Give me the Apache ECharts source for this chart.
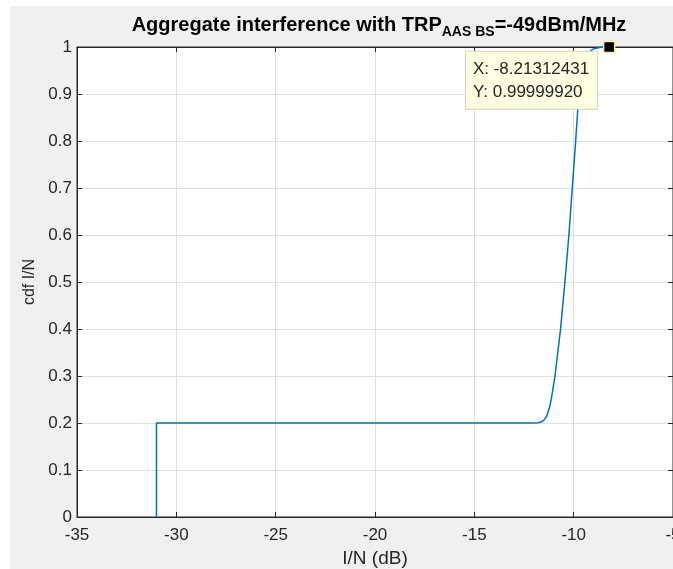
<!DOCTYPE html>
<html>
<head>
<meta charset="utf-8">
<script src="https://cdn.jsdelivr.net/npm/echarts@6/dist/echarts.min.js"></script>
<style>
html,body{margin:0;padding:0;background:#ffffff;}
#c{position:absolute;left:10px;top:6px;width:663px;height:563px;}
</style>
</head>
<body>
<div id="c"></div>
<script>
// ---- data ----
const xValues = [-31, -31, -12.05, -11.8, -11.65, -11.5, -11.35, -11.2, -11.07, -10.94, -10.66, -10.44, -10.24, -10.07, -9.90, -9.74, -9.6, -9.45, -9.28, -9.0, -8.63, -8.21312431];
const cdfValues = [0, 0.2, 0.2, 0.2005, 0.202, 0.206, 0.215, 0.235, 0.265, 0.3, 0.4, 0.5, 0.6, 0.7, 0.8, 0.9, 0.945, 0.972, 0.988, 0.996, 0.9993, 0.9999992];
const xTicks = [-35, -30, -25, -20, -15, -10, -5];
const yTicks = [0, 0.1, 0.2, 0.3, 0.4, 0.5, 0.6, 0.7, 0.8, 0.9, 1];
const dataTip = [-8.21312431, 0.9999992];

const FONT = 'Liberation Sans, Arial, Helvetica, sans-serif';
const seriesData = xValues.map((x, i) => [x, cdfValues[i]]);

const chart = echarts.init(document.getElementById('c'), null, {renderer: 'canvas'});
const axisCommon = {
  axisLine: {show: true, onZero: false, lineStyle: {color: '#262626', width: 1}},
  axisTick: {show: true, inside: true, length: 5, lineStyle: {color: '#262626'}}
};
chart.setOption({
  backgroundColor: '#f0f0f0',
  animation: false,
  title: {
    text: 'Aggregate interference with TRP{sub|AAS BS}=-49dBm/MHz',
    left: 364, top: 0, textAlign: 'center',
    textStyle: {
      fontFamily: FONT, fontSize: 20, fontWeight: 'bold', color: '#000',
      rich: {
        sub: {fontFamily: FONT, fontSize: 14, fontWeight: 'bold', color: '#000', padding: [14, 0, 0, 0]}
      }
    }
  },
  grid: {left: 67, top: 41, right: 0, bottom: 52, outerBoundsMode: 'none', containLabel: false,
    show: true, backgroundColor: '#ffffff', borderColor: '#262626', borderWidth: 1},
  xAxis: [{
    type: 'value', min: xTicks[0], max: xTicks[xTicks.length - 1], interval: 5,
    position: 'bottom',
    name: 'I/N (dB)', nameLocation: 'middle', nameGap: 32,
    nameTextStyle: {fontFamily: FONT, fontSize: 19, color: '#262626'},
    axisLabel: {fontFamily: FONT, fontSize: 17, color: '#262626', margin: 10},
    splitLine: {show: true, lineStyle: {color: '#dfdfdf', width: 1}},
    ...axisCommon
  }, {
    type: 'value', min: xTicks[0], max: xTicks[xTicks.length - 1], interval: 5,
    position: 'top', axisLabel: {show: false}, splitLine: {show: false},
    ...axisCommon
  }],
  yAxis: [{
    type: 'value', min: yTicks[0], max: yTicks[yTicks.length - 1], interval: 0.1,
    position: 'left',
    name: 'cdf I/N', nameLocation: 'middle', nameGap: 36, nameRotate: 90,
    nameTextStyle: {fontFamily: FONT, fontSize: 16, color: '#262626'},
    axisLabel: {fontFamily: FONT, fontSize: 17, color: '#262626', margin: 5,
      formatter: v => String(Math.round(v * 10) / 10)},
    splitLine: {show: true, lineStyle: {color: '#dfdfdf', width: 1}},
    ...axisCommon
  }, {
    type: 'value', min: yTicks[0], max: yTicks[yTicks.length - 1], interval: 0.1,
    position: 'right', axisLabel: {show: false}, splitLine: {show: false},
    ...axisCommon
  }],
  series: [{
    type: 'line',
    data: seriesData,
    showSymbol: false,
    smooth: false,
    clip: false,
    lineStyle: {color: '#0072BD', width: 1.5},
    itemStyle: {color: '#0072BD'},
    markPoint: {
      symbol: 'rect',
      symbolSize: 11,
      itemStyle: {color: '#000000', borderColor: '#f5f0a0', borderWidth: 1.5},
      data: [{
        coord: dataTip,
        label: {
          show: true,
          position: [-137, 11],
          formatter: 'X: ' + dataTip[0].toFixed(8) + '\nY: ' + dataTip[1].toFixed(8),
          fontFamily: FONT, fontSize: 17, color: '#262626', lineHeight: 23,
          backgroundColor: '#ffffe1', borderColor: '#d0d0c0', borderWidth: 1,
          padding: [6, 8, 5, 7],
          align: 'left', verticalAlign: 'top'
        }
      }]
    }
  }]
});
</script>
</body>
</html>
